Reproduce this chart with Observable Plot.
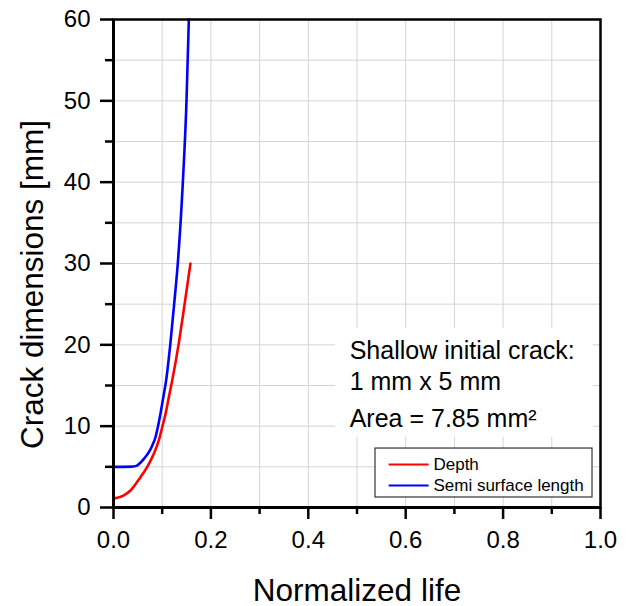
<!DOCTYPE html>
<html>
<head>
<meta charset="utf-8">
<script src="https://cdn.jsdelivr.net/npm/d3@7"></script>
<script src="https://cdn.jsdelivr.net/npm/@observablehq/plot@0.6"></script>
<style>
  html, body { margin: 0; padding: 0; background: #fff; }
  #chart svg { display: block; font-family: "Liberation Sans", Arial, sans-serif; }
</style>
</head>
<body>
<div id="chart"></div>
<script>
// ---- data ----
const seriesNames = ["Depth", "Semi surface length"];
const seriesColors = ["#ff0000", "#0000ff"];

const depthLife  = [0, 0.0212, 0.0349, 0.0554, 0.069, 0.0828, 0.093, 0.1, 0.1068, 0.1136, 0.1205, 0.1335, 0.146, 0.158];
const depthValue = [1.1, 1.5, 2.09, 3.73, 4.96, 6.6, 8.24, 9.87, 11.5, 13.56, 15.6, 20, 25, 30];

const semiLife  = [0, 0.02, 0.038, 0.047, 0.056, 0.0623, 0.0726, 0.0794, 0.0862, 0.091, 0.0951, 0.1, 0.1047, 0.108, 0.1165, 0.1245, 0.132, 0.1424, 0.1499, 0.1547];
const semiValue = [5, 5, 5.02, 5.12, 5.55, 5.98, 6.8, 7.6, 8.64, 9.87, 11.1, 12.75, 14.4, 15.6, 20, 25, 30, 40, 50, 60];

const xMajorTicks = [0, 0.2, 0.4, 0.6, 0.8, 1.0];
const xMinorTicks = [0.1, 0.3, 0.5, 0.7, 0.9];
const yMajorTicks = [0, 10, 20, 30, 40, 50, 60];
const yMinorTicks = [5, 15, 25, 35, 45, 55];
const xGrid = [0.1, 0.2, 0.3, 0.4, 0.5, 0.6, 0.7, 0.8, 0.9];
const yGrid = [5, 10, 15, 20, 25, 30, 35, 40, 45, 50, 55];

const xTitle = "Normalized life";
const yTitle = "Crack dimensions [mm]";
const annotationLines = ["Shallow initial crack:", "1 mm x 5 mm", "Area = 7.85 mm²"];

// ---- layout (in data units of the chart) ----
const annoBox = {x1: 0.456, x2: 0.985, y1: 8.64, y2: 22.0};
const annoX = 0.485;
const annoBaselines = [18.28, 14.39, 9.87];
const legendBox = {x1: 0.538, x2: 0.9836, y1: 1.23, y2: 7.25};
const legendRowY = [5.29, 2.7];
const legendLineX = [0.565, 0.647];
const legendTextX = 0.657;

// ---- tables built from the arrays ----
const curves = [
  ...depthLife.map((x, i) => ({x, y: depthValue[i], s: seriesNames[0]})),
  ...semiLife.map((x, i) => ({x, y: semiValue[i], s: seriesNames[1]}))
];
const annoRows = annotationLines.map((t, i) => ({t, x: annoX, y: annoBaselines[i]}));
const legendRows = seriesNames.map((name, i) => ({
  name, color: seriesColors[i], y: legendRowY[i],
  x1: legendLineX[0], x2: legendLineX[1], tx: legendTextX
}));

const font = "Liberation Sans, Arial, sans-serif";

const chart = Plot.plot({
  width: 630,
  height: 606,
  marginLeft: 113,
  marginRight: 30,
  marginTop: 19,
  marginBottom: 99,
  style: {fontFamily: font, background: "#fff", color: "#000"},
  x: {domain: [0, 1]},
  y: {domain: [0, 60]},
  color: {domain: seriesNames, range: seriesColors},
  marks: [
    Plot.gridX(xGrid, {stroke: "#d4d4d4", strokeOpacity: 1, strokeWidth: 1}),
    Plot.gridY(yGrid, {stroke: "#d4d4d4", strokeOpacity: 1, strokeWidth: 1}),
    Plot.rect([annoBox], {x1: "x1", x2: "x2", y1: "y1", y2: "y2", fill: "#fff"}),
    Plot.rect([legendBox], {x1: "x1", x2: "x2", y1: "y1", y2: "y2", fill: "#fff", stroke: "#333", strokeWidth: 1.2}),
    Plot.line(curves, {x: "x", y: "y", z: "s", stroke: "s", strokeWidth: 2.6, curve: "monotone-x"}),
    Plot.frame({stroke: "#000", strokeWidth: 2.5}),
    Plot.ruleX([0], {stroke: "#000", strokeWidth: 3}),
    Plot.ruleY([0], {stroke: "#000", strokeWidth: 3}),
    Plot.axisX(xMajorTicks, {tickSize: 12, tickPadding: 11, fontSize: 24, strokeWidth: 2.5, tickFormat: d3.format(".1f"), label: null}),
    Plot.axisX(xMinorTicks, {tickSize: 7, strokeWidth: 2.5, text: null, label: null}),
    Plot.axisY(yMajorTicks, {tickSize: 13, tickPadding: 10, fontSize: 24, strokeWidth: 2.5, tickFormat: d3.format("d"), label: null}),
    Plot.axisY(yMinorTicks, {tickSize: 8, strokeWidth: 2.5, text: null, label: null}),
    Plot.text([xTitle], {frameAnchor: "bottom", textAnchor: "middle", lineAnchor: "bottom", dy: 93, fontSize: 31.5, fill: "#000"}),
    Plot.text([yTitle], {frameAnchor: "left", textAnchor: "middle", lineAnchor: "bottom", rotate: -90, dx: -71, dy: 21, fontSize: 31.5, fill: "#000"}),
    Plot.text(annoRows, {x: "x", y: "y", text: "t", textAnchor: "start", lineAnchor: "bottom", fontSize: 25, fill: "#000"}),
    Plot.link(legendRows, {x1: "x1", x2: "x2", y1: "y", y2: "y", stroke: "color", strokeWidth: 2}),
    Plot.text(legendRows, {x: "tx", y: "y", text: "name", textAnchor: "start", lineAnchor: "middle", fontSize: 17, fill: "#000"})
  ]
});

document.getElementById("chart").appendChild(chart);
</script>
</body>
</html>
